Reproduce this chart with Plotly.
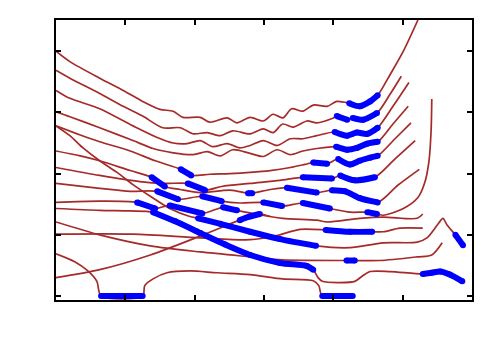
import plotly.graph_objects as go

# Each band: x (path coordinate), y (energy), hl (highlight segment id, 0 = none)
A_x = [0, 0.20, 0.63, 0.97, 1.25, 1.50, 1.69, 1.83, 2.08, 2.22, 2.47, 2.61, 2.80, 2.99, 3.13, 3.27, 3.40, 3.56, 3.71, 3.91, 4.05, 4.23, 4.38, 4.53, 4.64, 4.82, 5.01, 5.22]
A_y = [4.00, 3.83, 3.56, 3.36, 3.18, 3.05, 3.02, 2.92, 2.92, 2.84, 2.91, 2.83, 2.92, 2.86, 2.97, 2.91, 3.06, 3.02, 3.12, 3.10, 3.18, 3.15, 3.10, 3.18, 3.28, 3.62, 4.00, 4.51]
A_hl = [0, 0, 0, 0, 0, 0, 0, 0, 0, 0, 0, 0, 0, 0, 0, 0, 0, 0, 0, 0, 0, 1, 1, 1, 1, 0, 0, 0]

B_x = [0, 0.20, 0.63, 0.97, 1.25, 1.54, 1.79, 1.98, 2.18, 2.37, 2.55, 2.80, 2.99, 3.13, 3.27, 3.42, 3.62, 3.76, 4.00, 4.05, 4.20, 4.28, 4.43, 4.63, 4.82, 4.98]
B_y = [3.69, 3.56, 3.31, 3.10, 2.94, 2.75, 2.75, 2.65, 2.67, 2.62, 2.70, 2.65, 2.73, 2.67, 2.81, 2.76, 2.86, 2.83, 2.91, 2.94, 2.88, 2.91, 2.88, 2.99, 3.30, 3.59]
B_hl = [0, 0, 0, 0, 0, 0, 0, 0, 0, 0, 0, 0, 0, 0, 0, 0, 0, 0, 0, 1, 1, 2, 2, 2, 0, 0]

C_x = [0, 0.20, 0.63, 1.11, 1.46, 1.69, 1.89, 2.08, 2.26, 2.47, 2.65, 2.80, 2.99, 3.19, 3.38, 3.56, 3.76, 4.02, 4.20, 4.34, 4.49, 4.64, 4.86, 5.09]
C_y = [3.36, 3.23, 3.06, 2.78, 2.59, 2.50, 2.49, 2.54, 2.44, 2.49, 2.42, 2.46, 2.54, 2.46, 2.57, 2.57, 2.62, 2.68, 2.62, 2.67, 2.65, 2.75, 3.10, 3.49]
C_hl = [0, 0, 0, 0, 0, 0, 0, 0, 0, 0, 0, 0, 0, 0, 0, 0, 0, 1, 1, 1, 1, 1, 0, 0]

D_x = [0, 0.20, 0.63, 1.11, 1.40, 1.69, 1.98, 2.18, 2.37, 2.55, 2.80, 2.99, 3.19, 3.38, 3.56, 3.76, 4.04, 4.20, 4.34, 4.49, 4.64, 4.86, 5.08]
D_y = [3.01, 2.93, 2.75, 2.54, 2.41, 2.34, 2.31, 2.36, 2.29, 2.39, 2.33, 2.28, 2.39, 2.31, 2.37, 2.41, 2.44, 2.39, 2.42, 2.49, 2.52, 2.81, 3.10]
D_hl = [0, 0, 0, 0, 0, 0, 0, 0, 0, 0, 0, 0, 0, 0, 0, 0, 1, 1, 1, 1, 1, 0, 0]

E_x = [0, 0.35, 0.63, 1.07, 1.43, 1.80, 1.95, 2.22, 2.51, 2.80, 3.09, 3.38, 3.59, 3.71, 3.91, 4.07, 4.24, 4.38, 4.53, 4.64, 4.89, 5.12]
E_y = [2.78, 2.63, 2.52, 2.37, 2.21, 2.07, 1.97, 1.99, 2.00, 2.02, 2.05, 2.10, 2.15, 2.18, 2.16, 2.24, 2.15, 2.21, 2.26, 2.29, 2.57, 2.83]
E_hl = [0, 0, 0, 0, 0, 1, 1, 0, 0, 0, 0, 0, 0, 2, 2, 3, 3, 3, 3, 3, 0, 0]

F_x = [0, 0.20, 0.39, 0.63, 0.88, 1.11, 1.36, 1.64, 1.93, 2.05, 2.37, 2.80, 3.23, 3.75, 4.24, 4.72, 5.21, 5.35, 5.50, 5.58, 5.64, 5.76, 5.87]
F_y = [2.78, 2.62, 2.42, 2.21, 2.02, 1.82, 1.63, 1.43, 1.30, 1.27, 1.18, 1.05, 0.93, 0.82, 0.79, 0.87, 0.88, 0.95, 1.16, 1.27, 1.16, 1.00, 0.83]
F_hl = [0, 0, 0, 0, 0, 0, 0, 0, 0, 1, 1, 1, 1, 1, 0, 0, 0, 0, 0, 0, 0, 2, 2]

P_x = [0, 0.35, 0.63, 1.07, 1.38, 1.57, 1.79, 2.08, 2.51, 2.77, 2.83, 3.09, 3.33, 3.76, 3.98, 4.17, 4.38, 4.64, 4.93, 5.24]
P_y = [2.37, 2.29, 2.21, 2.05, 1.94, 1.79, 1.74, 1.69, 1.73, 1.68, 1.68, 1.74, 1.77, 1.69, 1.73, 1.71, 1.60, 1.53, 1.81, 2.07]
P_hl = [0, 0, 0, 0, 1, 1, 0, 0, 0, 2, 2, 0, 3, 3, 4, 4, 4, 4, 0, 0]

Q_x = [0, 0.63, 1.21, 1.57, 1.90, 2.15, 2.39, 2.80, 3.23, 3.56, 3.98, 4.10, 4.31, 4.60, 4.89, 5.18]
Q_y = [2.10, 1.97, 1.87, 1.84, 1.84, 1.73, 1.79, 1.84, 1.89, 1.94, 1.92, 1.97, 1.89, 1.94, 2.24, 2.54]
Q_hl = [0, 0, 0, 0, 1, 1, 0, 0, 0, 2, 2, 3, 3, 3, 0, 0]

H_x = [0, 0.63, 1.07, 1.46, 1.76, 2.11, 2.39, 2.65, 2.99, 3.26, 3.56, 3.95, 4.24, 4.49, 4.63, 4.72, 5.01, 5.22, 5.32, 5.38, 5.41, 5.42]
H_y = [1.84, 1.76, 1.71, 1.71, 1.58, 1.63, 1.55, 1.52, 1.53, 1.47, 1.52, 1.43, 1.37, 1.37, 1.34, 1.32, 1.43, 1.61, 1.86, 2.21, 2.70, 3.22]
H_hl = [0, 0, 0, 1, 1, 2, 2, 0, 3, 3, 4, 4, 0, 5, 5, 0, 0, 0, 0, 0, 0, 0]

I_x = [0, 0.63, 1.17, 1.43, 1.64, 2.11, 2.41, 2.61, 2.87, 3.27, 3.76, 3.91, 4.38, 4.72, 5.21, 5.29]
I_y = [1.53, 1.55, 1.53, 1.43, 1.48, 1.35, 1.45, 1.40, 1.34, 1.27, 1.24, 1.21, 1.27, 1.29, 1.27, 1.34]
I_hl = [0, 0, 1, 1, 2, 2, 3, 3, 0, 0, 0, 0, 0, 0, 0, 0]

R_x = [0, 0.63, 1.36, 2.08, 2.65, 2.80, 2.94, 3.09]
R_y = [0.30, 0.43, 0.67, 0.98, 1.24, 1.30, 1.34, 1.30]
R_hl = [0, 0, 0, 0, 1, 1, 1, 0]

J_x = [0, 0.63, 1.07, 1.40, 1.72, 2.08, 2.44, 2.80, 3.23, 3.62, 3.71, 3.78, 3.84, 4.10, 4.31, 4.41, 4.53, 4.82, 5.29, 5.42, 5.54, 5.68, 5.86]
J_y = [1.43, 1.40, 1.39, 1.37, 1.22, 1.03, 0.84, 0.67, 0.54, 0.49, 0.43, 0.30, 0.24, 0.22, 0.24, 0.32, 0.40, 0.40, 0.36, 0.38, 0.40, 0.35, 0.24]
J_hl = [0, 0, 0, 1, 1, 1, 1, 1, 1, 1, 1, 0, 0, 0, 0, 0, 0, 0, 2, 2, 2, 2, 2]

K_x = [0, 0.63, 1.36, 2.08, 2.80, 3.27, 4.19, 4.31, 4.67, 5.21, 5.42, 5.57]
K_y = [1.21, 1.00, 0.82, 0.72, 0.64, 0.59, 0.58, 0.58, 0.58, 0.64, 0.67, 0.87]
K_hl = [0, 0, 0, 0, 0, 0, 1, 1, 0, 0, 0, 0]

L_x = [0, 1.11, 2.08, 2.80, 3.16, 3.52, 3.89, 4.24, 4.56, 4.72, 4.96, 5.29]
L_y = [1.01, 1.01, 0.95, 0.92, 0.98, 1.09, 1.08, 1.05, 1.05, 1.05, 1.11, 1.11]
L_hl = [0, 0, 0, 0, 0, 0, 1, 1, 1, 0, 0, 0]

Z_x = [0, 0.27, 0.46, 0.59, 0.65, 1.25, 1.28, 1.40, 1.60, 1.93, 2.32, 2.80, 3.27, 3.71, 3.79, 3.84, 4.28]
Z_y = [0.69, 0.56, 0.41, 0.24, 0.00, 0.00, 0.17, 0.28, 0.38, 0.41, 0.38, 0.35, 0.28, 0.25, 0.17, 0.00, 0.00]
Z_hl = [0, 0, 0, 0, 1, 1, 0, 0, 0, 0, 0, 0, 0, 0, 0, 2, 2]

x_ticks = [1, 2, 3, 4, 5]
y_ticks = [0, 1, 2, 3, 4]

bands = [
    (A_x, A_y, A_hl), (B_x, B_y, B_hl), (C_x, C_y, C_hl), (D_x, D_y, D_hl),
    (E_x, E_y, E_hl), (F_x, F_y, F_hl), (P_x, P_y, P_hl), (Q_x, Q_y, Q_hl),
    (H_x, H_y, H_hl), (I_x, I_y, I_hl), (R_x, R_y, R_hl), (J_x, J_y, J_hl),
    (K_x, K_y, K_hl), (L_x, L_y, L_hl), (Z_x, Z_y, Z_hl),
]

BROWN = "#a52a2a"
BLUE = "#0000ff"

fig = go.Figure()
for bx, by, _ in bands:
    fig.add_trace(go.Scatter(
        x=bx, y=by, mode="lines",
        line=dict(color=BROWN, width=1.7, shape="spline", smoothing=0.8),
        hoverinfo="skip", showlegend=False,
    ))

for bx, by, hl in bands:
    segs = {}
    for xi, yi, h in zip(bx, by, hl):
        if h:
            segs.setdefault(h, []).append((xi, yi))
    for pts in segs.values():
        fig.add_trace(go.Scatter(
            x=[p[0] for p in pts], y=[p[1] for p in pts], mode="lines+markers",
            line=dict(color=BLUE, width=6, shape="spline", smoothing=0.8),
            marker=dict(color=BLUE, size=6),
            hoverinfo="skip", showlegend=False,
        ))

axis_common = dict(
    showline=True, linecolor="black", linewidth=2, mirror="ticks",
    ticks="inside", ticklen=5, tickwidth=1.5, tickcolor="black",
    showticklabels=False, showgrid=False, zeroline=False,
)
fig.update_xaxes(range=[0, 6], tickvals=x_ticks, **axis_common)
fig.update_yaxes(range=[-0.065, 4.51], tickvals=y_ticks, **axis_common)

fig.update_layout(
    width=500, height=350,
    margin=dict(l=48, r=36, t=10, b=57.5),
    plot_bgcolor="white", paper_bgcolor="white",
    showlegend=False,
)

fig.write_html("out.html")
